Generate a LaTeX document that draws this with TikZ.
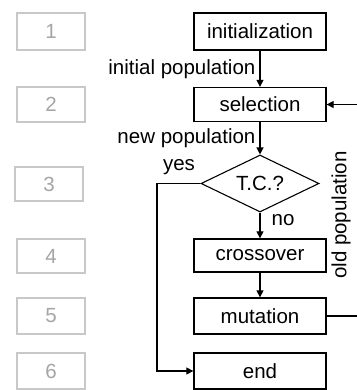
\documentclass[tikz,border=0pt]{standalone}
\usepackage{fontspec}
\setmainfont{Liberation Sans}
\usetikzlibrary{shapes.geometric,arrows.meta}
\definecolor{boxgray}{RGB}{200,200,200}
\definecolor{numgray}{RGB}{165,165,165}
\begin{document}
\begin{tikzpicture}[x=1pt,y=-1pt,
  every node/.style={font=\fontsize{20.5}{24}\selectfont},
  stepbox/.style={draw, line width=1.3pt, minimum width=132pt, inner sep=0pt},
  numbox/.style={draw=boxgray, line width=1.3pt, minimum width=68pt, text=numgray, inner sep=0pt},
  decision/.style={draw, diamond, line width=1.1pt, minimum width=118pt, minimum height=57pt, aspect=2, inner sep=0pt},
  arr/.style={line width=1.2pt, -{Triangle[length=7pt,width=7pt]}},
  lbl/.style={inner sep=0pt}
]
\useasboundingbox (0,0) rectangle (356,390);

% gray numbered boxes
\node[numbox, minimum height=37pt] (n1) at (51,31.5) {1};
\node[numbox, minimum height=35pt] (n2) at (51,104.5) {2};
\node[numbox, minimum height=34pt] (n3) at (49,184) {3};
\node[numbox, minimum height=34pt] (n4) at (51,256) {4};
\node[numbox, minimum height=36pt] (n5) at (51,316) {5};
\node[numbox, minimum height=36pt] (n6) at (51,371) {6};

% flow
\node[stepbox, minimum height=37pt] (init) at (260,31.5) {initialization};
\node[stepbox, minimum height=34pt] (sel) at (260,104.5) {selection};
\node[decision] (tc) at (260,183.5) {T.C.?};
\node[stepbox, minimum height=33pt] (cross) at (260,255.5) {crossover};
\node[stepbox, minimum height=36pt] (mut) at (260,316) {mutation};
\node[stepbox, minimum height=36pt] (end) at (260,371) {end};

\coordinate (yc) at (157,183.5);
\coordinate (fb) at (364,316);

\draw[arr] (init) -- node[lbl, left=4pt] {initial population} (sel);
\draw[arr] (sel) -- node[lbl, left=4pt] {new population} (tc);
\draw[arr] (tc) -- node[lbl, right=11pt, pos=0.3] {no} (cross);
\draw[arr] (cross) -- (mut);
\draw[arr] (tc.west) -- (yc) |- (end.west);
\node[lbl] (yes) at (179,167) {yes};
\draw[arr] (mut.east) -- (fb) |- (sel.east);
\node[lbl, rotate=90] (old) at (341,215) {old population};
\end{tikzpicture}
\end{document}
